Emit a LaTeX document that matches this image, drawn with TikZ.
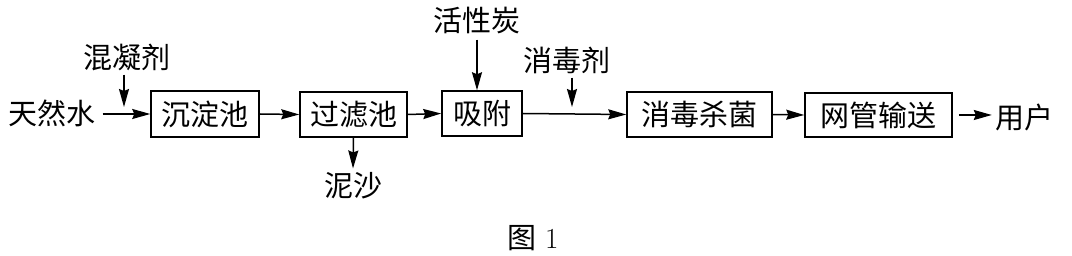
\documentclass[tikz,border=0pt]{standalone}
\usepackage{fontspec}
\newfontfamily\cjk{Noto Sans CJK SC}
\usetikzlibrary{arrows.meta}
\begin{document}
\begin{tikzpicture}[x=1pt,y=-1pt,
  box/.style={draw, line width=1.5pt, inner sep=0pt, font=\cjk\fontsize{29}{31}\selectfont},
  lbl/.style={inner sep=0pt, font=\cjk\fontsize{29}{31}\selectfont},
  flow/.style={line width=1.5pt, -{Stealth[length=18pt,width=10pt,inset=2pt]}}]
\fill[white] (0,0) rectangle (1072,256);
\useasboundingbox (0,0) rectangle (1072,256);
% boxes
\node[box, minimum width=108pt, minimum height=46pt] (b1) at (205,114) {沉淀池};
\node[box, minimum width=107pt, minimum height=45pt] (b2) at (353.5,114.5) {过滤池};
\node[box, minimum width=80pt, minimum height=45pt] (b3) at (482,113.5) {吸附};
\node[box, minimum width=145pt, minimum height=45pt] (b4) at (699.5,114.5) {消毒杀菌};
\node[box, minimum width=147pt, minimum height=44pt] (b5) at (878.5,115) {网管输送};
% labels
\node[lbl] (t0) at (52,113) {天然水};
\node[lbl] (t1) at (127,57) {混凝剂};
\node[lbl] (t2) at (353,186) {泥沙};
\node[lbl] (t3) at (477,21) {活性炭};
\node[lbl] (t4) at (567,60) {消毒剂};
\node[lbl] (t5) at (1024,117) {用户};
\node[inner sep=0pt, font=\fontsize{29}{31}\selectfont] (fig) at (533,238) {{\cjk 图} 1};
% junction points
\coordinate (j1) at (124,107);
\coordinate (j2) at (572,107);
% connectors
\draw[flow, shorten <=7pt] (t0.east |- b1.west) -- (b1.west);
\draw[flow] ([yshift=-4pt]t1.south -| j1) -- (j1);
\draw[flow] (b1.east) -- (b2.west);
\draw[flow] (b2.south) -- ([yshift=4pt]t2.north);
\draw[flow] (b2.east) -- (b3.west);
\draw[flow, shorten <=5pt] (t3.south) -- (t3.south |- b3.north);
\draw[flow] (b3.east) -- (b4.west);
\draw[flow, shorten <=4pt] (t4.south -| j2) -- (j2);
\draw[flow] (b4.east) -- (b5.west);
\draw[flow, shorten <=6pt, shorten >=3pt] (b5.east) -- (t5.west |- b5.east);
\end{tikzpicture}
\end{document}
